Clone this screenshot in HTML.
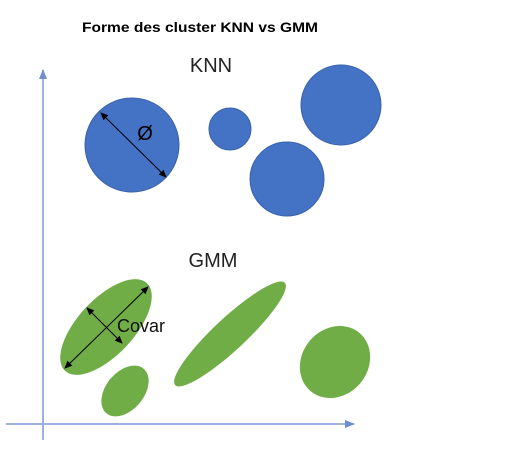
<!DOCTYPE html>
<html><head><meta charset="utf-8"><style>
html,body{margin:0;padding:0;background:#fff;}
svg{display:block;font-family:"Liberation Sans",sans-serif;}
</style></head><body>
<svg width="507" height="456" viewBox="0 0 507 456">
<defs>
<marker id="ax" markerWidth="10" markerHeight="10" refX="9" refY="5" orient="auto" markerUnits="userSpaceOnUse"><path d="M0,1 L10,5 L0,9 Z" fill="#6f8fd0"/></marker>
<marker id="ar" markerWidth="8" markerHeight="8" refX="7" refY="4" orient="auto-start-reverse" markerUnits="userSpaceOnUse"><path d="M0,0.5 L8,4 L0,7.5 Z" fill="#000"/></marker>
</defs>
<text x="200" y="32" text-anchor="middle" font-size="14" font-weight="bold" fill="#000" textLength="236" lengthAdjust="spacingAndGlyphs">Forme des cluster KNN vs GMM</text>
<line x1="43" y1="440" x2="43" y2="70" stroke="#9db2df" stroke-width="2" marker-end="url(#ax)"/>
<line x1="6" y1="424" x2="354" y2="424" stroke="#9db2df" stroke-width="2" marker-end="url(#ax)"/>
<text x="211" y="72" text-anchor="middle" font-size="20" fill="#222">KNN</text>
<circle cx="132" cy="145" r="47" fill="#4472c4" stroke="#3a62aa" stroke-width="1"/>
<circle cx="230" cy="129" r="21" fill="#4472c4" stroke="#3a62aa" stroke-width="1"/>
<circle cx="341" cy="105" r="40" fill="#4472c4" stroke="#3a62aa" stroke-width="1"/>
<circle cx="287" cy="179" r="37" fill="#4472c4" stroke="#3a62aa" stroke-width="1"/>
<line x1="101" y1="113" x2="166" y2="177" stroke="#000" stroke-width="1" marker-start="url(#ar)" marker-end="url(#ar)"/>
<text x="145" y="140" text-anchor="middle" font-size="20" fill="#000">Ø</text>
<text x="213" y="267" text-anchor="middle" font-size="20" fill="#222">GMM</text>
<ellipse cx="106" cy="327" rx="60" ry="28" transform="rotate(-47 106 327)" fill="#70ad47"/>
<ellipse cx="125" cy="391" rx="29" ry="19" transform="rotate(-50 125 391)" fill="#70ad47"/>
<ellipse cx="230" cy="334" rx="75" ry="16" transform="rotate(-43 230 334)" fill="#70ad47"/>
<ellipse cx="335" cy="362" rx="38" ry="33" transform="rotate(-50 335 362)" fill="#70ad47"/>
<line x1="65" y1="368" x2="148" y2="287" stroke="#000" stroke-width="1" marker-start="url(#ar)" marker-end="url(#ar)"/>
<line x1="87" y1="308" x2="122" y2="343" stroke="#000" stroke-width="1" marker-start="url(#ar)" marker-end="url(#ar)"/>
<text x="117" y="332" font-size="18" fill="#111">Covar</text>
</svg>
</body></html>
